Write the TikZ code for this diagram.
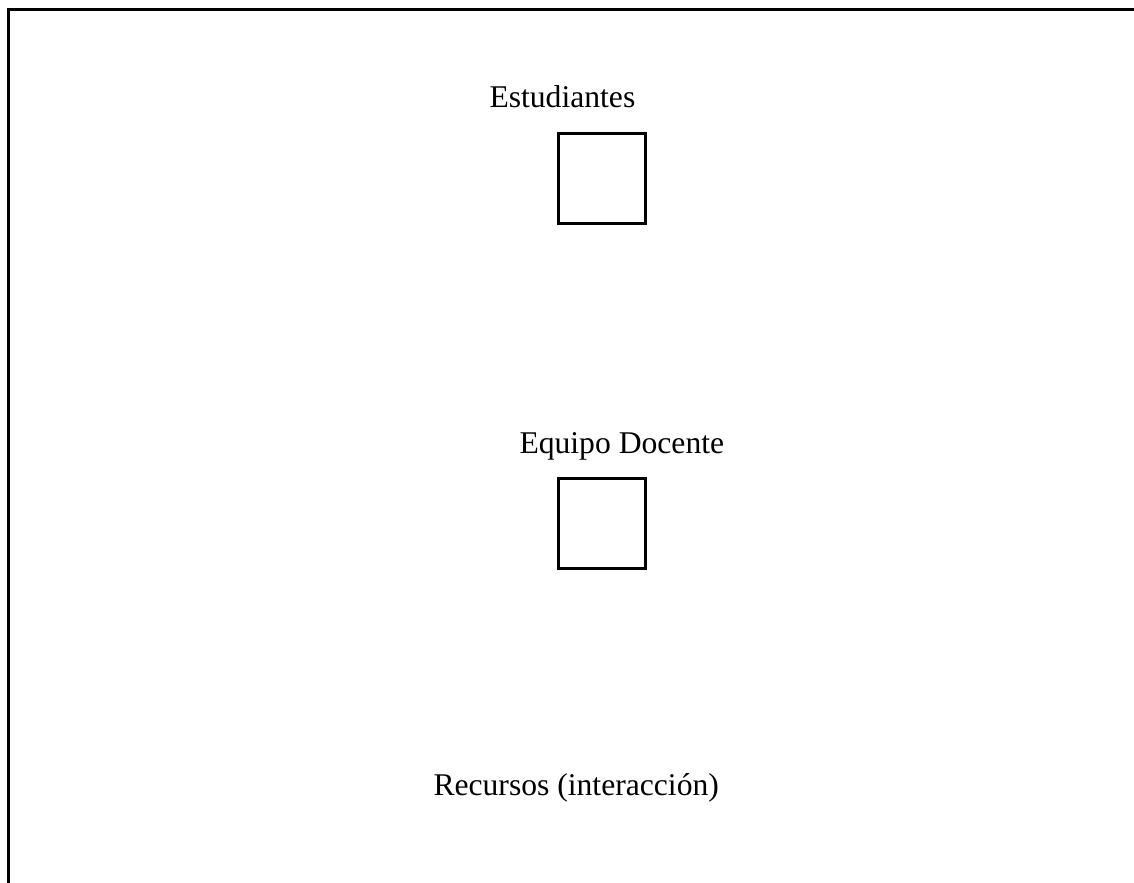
\documentclass[tikz,border=0pt]{standalone}
\usepackage{fontspec}
\setmainfont{Liberation Serif}
\usepackage{tikz}
\usetikzlibrary{positioning}

\begin{document}
\begin{tikzpicture}[x=0.02cm, y=-0.02cm, line width=0.06cm,
   label/.style={anchor=base west, inner sep=0pt, font=\fontsize{18}{22}\selectfont},
   actor/.style={draw, rectangle, inner sep=0pt, minimum width=1.76cm, minimum height=1.82cm}]
   \useasboundingbox (0,0) rectangle (1134,883);
   \draw (1134,9.5) -- (8.5,9.5) -- (8.5,883);
   \node[label] (est) at (488,107) {Estudiantes};
   \node[label] (doc) at (518,453) {Equipo Docente};
   \node[label] (rec) at (432,795) {Recursos (interacción)};
   \node[actor] (bEst) at (602,178.5) {};
   \node[actor] (bDoc) at (602,523.5) {};
\end{tikzpicture}
\end{document}
